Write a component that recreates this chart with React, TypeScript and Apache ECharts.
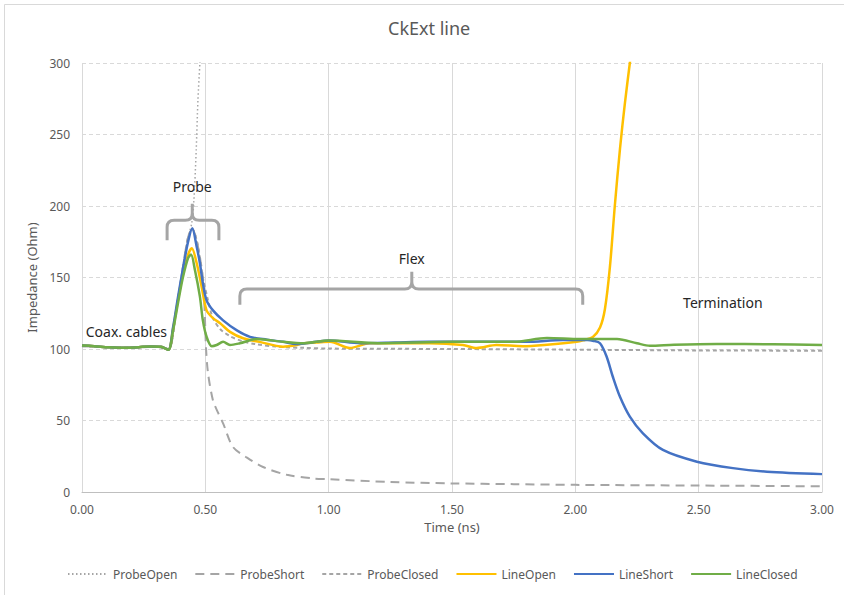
import React, { useEffect, useRef } from "react";
import * as echarts from "echarts";

// ---- data (Time in ns, Impedance in Ohm) ----
const seriesNames = ["ProbeOpen", "ProbeShort", "ProbeClosed", "LineOpen", "LineShort", "LineClosed"];

const probeOpenT = [0, 0.1, 0.2, 0.3, 0.35, 0.38, 0.41, 0.43, 0.445, 0.453, 0.463, 0.47, 0.478, 0.486];
const probeOpenZ = [102, 101.3, 101, 101.6, 100, 125, 158, 178, 188, 202, 239, 274, 300, 325];

const probeShortT = [0, 0.1, 0.2, 0.3, 0.35, 0.38, 0.41, 0.43, 0.447, 0.462, 0.477, 0.49, 0.497, 0.503, 0.511, 0.531, 0.55, 0.572, 0.612, 0.669, 0.734, 0.831, 0.936, 1.0, 1.25, 1.5, 1.75, 2.0, 2.5, 3.0];
const probeShortZ = [102, 101.3, 101, 101.6, 100, 125, 158, 178, 184, 178, 165, 150, 128, 100, 83, 64, 56, 48, 31.5, 24, 17.5, 12, 9.5, 9, 7, 6, 5.5, 5, 4.5, 4];

const probeClosedT = [0, 0.1, 0.2, 0.3, 0.35, 0.38, 0.41, 0.43, 0.447, 0.462, 0.477, 0.49, 0.511, 0.53, 0.56, 0.6, 0.65, 0.7, 0.8, 0.9, 1.0, 1.5, 2.0, 2.5, 3.0];
const probeClosedZ = [102, 101.3, 101, 101.6, 100, 125, 158, 178, 184, 178, 165, 150, 134, 122, 114, 109, 105.5, 103.5, 101.5, 100.8, 100.3, 100, 99.5, 99, 98.8];

const lineOpenT = [0, 0.05, 0.11, 0.18, 0.23, 0.28, 0.32, 0.35, 0.369, 0.389, 0.409, 0.43, 0.445, 0.465, 0.485, 0.505, 0.531, 0.56, 0.6, 0.653, 0.72, 0.815, 0.872, 0.896, 0.95, 1.005, 1.086, 1.167, 1.277, 1.41, 1.544, 1.6, 1.68, 1.788, 1.885, 2.006, 2.031, 2.071, 2.1, 2.12, 2.14, 2.16, 2.181, 2.201, 2.221, 2.24];
const lineOpenZ = [102.5, 102, 101.2, 100.8, 101.3, 101.8, 101.5, 99.5, 114, 134, 153, 166, 170.4, 160, 143.6, 127, 121.6, 118, 112, 107.5, 105, 101.6, 102.8, 104, 104.5, 105, 100.7, 104, 104, 104, 102.8, 100.7, 102.8, 102, 103, 105, 106, 108.4, 115, 128, 157, 200, 240, 272, 300, 326];

const lineShortT = [0, 0.05, 0.11, 0.18, 0.23, 0.28, 0.32, 0.35, 0.369, 0.389, 0.409, 0.43, 0.447, 0.465, 0.478, 0.49, 0.505, 0.531, 0.572, 0.628, 0.681, 0.75, 0.815, 0.87, 0.95, 1.0, 1.13, 1.27, 1.4, 1.6, 1.8, 1.95, 2.05, 2.071, 2.1, 2.127, 2.152, 2.181, 2.221, 2.274, 2.355, 2.493, 2.639, 2.777, 3.0];
const lineShortZ = [102.5, 102, 101.2, 100.8, 101.3, 101.8, 101.5, 99.5, 115, 136, 156, 175, 184.5, 171.5, 160, 146, 134, 127, 120, 113, 108.5, 106.5, 105, 103.5, 105, 106, 104, 104.5, 105, 105, 105, 106.3, 106.3, 105.8, 104, 94.6, 80.6, 66.6, 52.7, 41, 29.4, 21.2, 16.7, 14.2, 12.5];

const lineClosedT = [0, 0.05, 0.11, 0.18, 0.23, 0.28, 0.32, 0.35, 0.369, 0.389, 0.409, 0.43, 0.442, 0.458, 0.478, 0.49, 0.505, 0.526, 0.546, 0.572, 0.6, 0.64, 0.71, 0.815, 0.9, 1.0, 1.2, 1.5, 1.75, 1.885, 2.02, 2.1, 2.169, 2.25, 2.302, 2.4, 2.574, 2.8, 3.0];
const lineClosedZ = [102.5, 102, 101.2, 100.8, 101.3, 101.8, 101.5, 99.5, 113, 132, 150, 163.6, 166, 155, 136.6, 120, 108.6, 102, 102.8, 105, 102.8, 104, 107, 105, 104, 106, 104, 105, 105, 107.7, 107, 107, 107, 104, 102.3, 103, 103.5, 103.3, 102.8];

const xTicks = { min: 0, max: 3, interval: 0.5 };
const yTicks = { min: 0, max: 300, interval: 50 };

// annotations (data coordinates)
const bracketStart = [0.345, 0.64];
const bracketEnd = [0.555, 2.03];
const bracketMid = [0.447, 1.337];
const bracketEndZ = [176, 131];
const bracketBarZ = [190, 142];
const bracketTipZ = [201.5, 154];

const annotationTexts = ["Coax. cables", "Probe", "Flex", "Termination"];
const annotationT = [0.18, 0.447, 1.337, 2.598];
const annotationZ = [112, 213.3, 163.4, 132.2];

const FONT = "'Noto Sans', 'Open Sans', sans-serif";
const GRAY = "#A5A5A5";

function pairs(t: number[], z: number[]) {
  return t.map((v, i) => [v, z[i]]);
}

export default function App() {
  const ref = useRef<HTMLDivElement>(null);

  useEffect(() => {
    if (!ref.current) return;
    const chart = echarts.init(ref.current, undefined, { renderer: "svg" });

    const lineSeries = [
      { name: seriesNames[0], data: pairs(probeOpenT, probeOpenZ), color: GRAY, width: 1.5, type: [1.5, 2.5] as any },
      { name: seriesNames[1], data: pairs(probeShortT, probeShortZ), color: GRAY, width: 2, type: [9, 6] as any },
      { name: seriesNames[2], data: pairs(probeClosedT, probeClosedZ), color: GRAY, width: 2, type: [4, 3] as any },
      { name: seriesNames[3], data: pairs(lineOpenT, lineOpenZ), color: "#FFC000", width: 2.5, type: "solid" as any },
      { name: seriesNames[4], data: pairs(lineShortT, lineShortZ), color: "#4472C4", width: 2.5, type: "solid" as any },
      { name: seriesNames[5], data: pairs(lineClosedT, lineClosedZ), color: "#70AD47", width: 2.5, type: "solid" as any },
    ].map((s) => ({
      name: s.name,
      type: "line",
      data: s.data,
      symbol: "none",
      smooth: 0.3,
      clip: true,
      color: s.color,
      lineStyle: { color: s.color, width: s.width, type: s.type },
    }));

    const bracketData = bracketStart.map((s, i) => [s, bracketEnd[i], bracketMid[i], bracketEndZ[i], bracketBarZ[i], bracketTipZ[i]]);
    const textData = annotationT.map((t, i) => [t, annotationZ[i]]);

    chart.setOption({
      animation: false,
      title: {
        text: "CkExt line",
        left: 388,
        top: 19,
        padding: 0,
        textStyle: { fontFamily: FONT, fontSize: 18, fontWeight: "normal", color: "#595959" },
      },
      legend: {
        data: seriesNames,
        left: 67,
        top: 568,
        padding: 0,
        itemWidth: 40,
        itemHeight: 14,
        itemGap: 17,
        itemStyle: { opacity: 0 },
        textStyle: { fontFamily: FONT, fontSize: 12, color: "#595959" },
      },
      grid: { left: 82, right: 22, top: 63, bottom: 103, containLabel: false },
      xAxis: {
        type: "value",
        min: xTicks.min,
        max: xTicks.max,
        interval: xTicks.interval,
        name: "Time (ns)",
        nameLocation: "middle",
        nameGap: 28,
        nameTextStyle: { fontFamily: FONT, fontSize: 13, color: "#595959" },
        axisLine: { show: true, lineStyle: { color: "#BFBFBF", width: 1 } },
        axisTick: { show: false },
        axisLabel: {
          formatter: (v: number) => v.toFixed(2),
          fontFamily: FONT,
          fontSize: 12,
          color: "#595959",
          margin: 11,
        },
        splitLine: { show: true, lineStyle: { color: "#D9D9D9", width: 1, type: "solid" } },
      },
      yAxis: {
        type: "value",
        min: yTicks.min,
        max: yTicks.max,
        interval: yTicks.interval,
        name: "Impedance (Ohm)",
        nameLocation: "middle",
        nameGap: 38,
        nameTextStyle: { fontFamily: FONT, fontSize: 13, color: "#595959" },
        axisLine: { show: false },
        axisTick: { show: false },
        axisLabel: { fontFamily: FONT, fontSize: 12, color: "#595959", margin: 12 },
        splitLine: { show: true, lineStyle: { color: "#D9D9D9", width: 1, type: [4, 3] } },
      },
      graphic: [
        {
          type: "rect",
          z: -10,
          silent: true,
          shape: { x: 4.5, y: 4.5, width: 900, height: 900 },
          style: { fill: "none", stroke: "#D9D9D9", lineWidth: 1 },
        },
      ],
      series: [
        ...lineSeries,
        {
          type: "custom",
          name: "brackets",
          data: bracketData,
          encode: { x: [0, 1, 2], y: [3, 4, 5] },
          clip: false,
          silent: true,
          z: 3,
          renderItem: (params: any, api: any) => {
            const t0 = api.value(0), t1 = api.value(1), tc = api.value(2);
            const zEnd = api.value(3), zBar = api.value(4), zTip = api.value(5);
            const [x0, yEnd] = api.coord([t0, zEnd]);
            const [x1] = api.coord([t1, zEnd]);
            const [xc, yBar] = api.coord([tc, zBar]);
            const [, yTip] = api.coord([tc, zTip]);
            const r = 7;
            const d =
              `M${x0},${yEnd} L${x0},${yBar + r} Q${x0},${yBar} ${x0 + r},${yBar} ` +
              `L${xc - r},${yBar} Q${xc},${yBar} ${xc},${yBar - r} L${xc},${yTip} ` +
              `M${xc},${yBar - r} Q${xc},${yBar} ${xc + r},${yBar} ` +
              `L${x1 - r},${yBar} Q${x1},${yBar} ${x1},${yBar + r} L${x1},${yEnd}`;
            return {
              type: "path",
              shape: { pathData: d },
              style: { stroke: GRAY, lineWidth: 3, fill: "none" },
            };
          },
        },
        {
          type: "custom",
          name: "annotations",
          data: textData,
          encode: { x: 0, y: 1 },
          clip: false,
          silent: true,
          z: 4,
          renderItem: (params: any, api: any) => {
            const [x, y] = api.coord([api.value(0), api.value(1)]);
            return {
              type: "text",
              x,
              y,
              style: {
                text: annotationTexts[params.dataIndex],
                fill: "#262626",
                fontSize: 14,
                fontFamily: FONT,
                align: "center",
                verticalAlign: "middle",
              },
            };
          },
        },
      ],
    });

    return () => {
      chart.dispose();
    };
  }, []);

  return (
    <div
      ref={ref}
      style={{ position: "fixed", left: 0, top: 0, width: 844, height: 595, background: "#fff" }}
    />
  );
}
